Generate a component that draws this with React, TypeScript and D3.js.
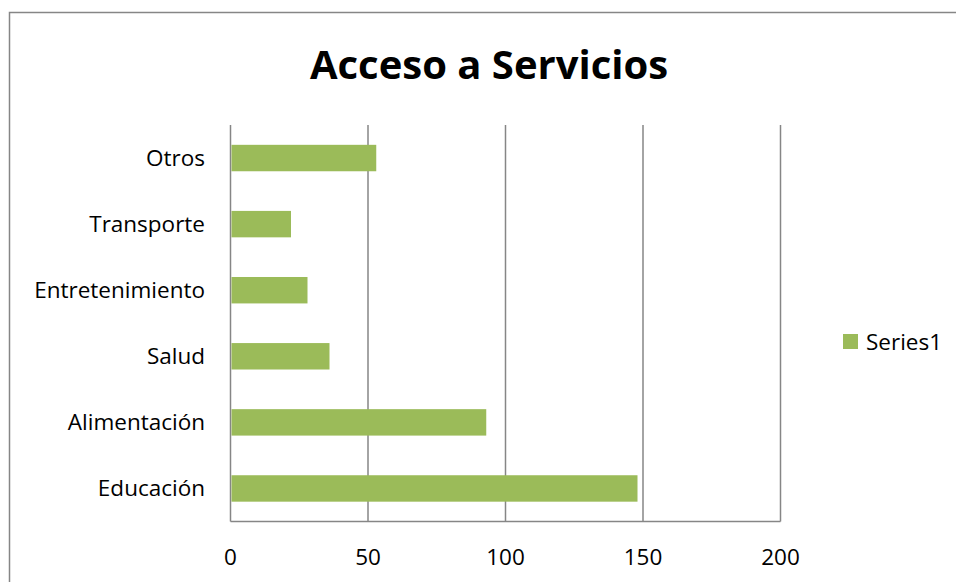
import React from "react";
import * as d3 from "d3";

const categories = ["Educación", "Alimentación", "Salud", "Entretenimiento", "Transporte", "Otros"];
const values = [148, 93, 36, 28, 22, 53];
const xTicks = [0, 50, 100, 150, 200];
const seriesName = "Series1";
const title = "Acceso a Servicios";

const W = 956;
const H = 582;
const plot = { left: 230.5, right: 780.5, top: 125, bottom: 521.5 };
const barColor = "#9BBB59";
const gridColor = "#868686";
const font = "'Open Sans', Lato, sans-serif";

export default function App() {
  const x = d3.scaleLinear().domain([0, 200]).range([plot.left, plot.right]);
  const y = d3
    .scaleBand<string>()
    .domain(categories)
    .range([plot.bottom, plot.top])
    .paddingInner(0.6)
    .paddingOuter(0.3);

  return (
    <svg
      width={W}
      height={H}
      style={{ position: "absolute", left: 0, top: 0, background: "#fff" }}
    >
      <rect x={9.5} y={12.5} width={980} height={620} fill="#fff" stroke="#868686" strokeWidth={1.5} />
      <text
        x={489}
        y={79}
        textAnchor="middle"
        fontFamily={font}
        fontWeight="bold"
        fontSize={40}
        fill="#000"
      >
        {title}
      </text>
      {xTicks.map((t) => (
        <line key={"g" + t} x1={x(t)} x2={x(t)} y1={plot.top} y2={plot.bottom} stroke={gridColor} strokeWidth={1.5} />
      ))}
      <line x1={plot.left} x2={plot.right} y1={plot.bottom} y2={plot.bottom} stroke={gridColor} strokeWidth={1.5} />
      {categories.map((c, i) => (
        <rect
          key={c}
          x={x(0) + 1}
          y={y(c)!}
          width={x(values[i]) - x(0) - 1}
          height={y.bandwidth()}
          fill={barColor}
        />
      ))}
      {categories.map((c) => (
        <text
          key={"l" + c}
          x={205}
          y={y(c)! + y.bandwidth() / 2}
          dy="0.35em"
          textAnchor="end"
          fontFamily={font}
          fontSize={22.5}
          fill="#000"
        >
          {c}
        </text>
      ))}
      {xTicks.map((t) => (
        <text
          key={"t" + t}
          x={x(t)}
          y={557}
          dy="0.35em"
          textAnchor="middle"
          fontFamily={font}
          fontSize={22.5}
          fill="#000"
        >
          {t}
        </text>
      ))}
      <rect x={843} y={334} width={15} height={15} fill={barColor} />
      <text x={866} y={342} dy="0.35em" fontFamily={font} fontSize={22.5} fill="#000">
        {seriesName}
      </text>
    </svg>
  );
}
